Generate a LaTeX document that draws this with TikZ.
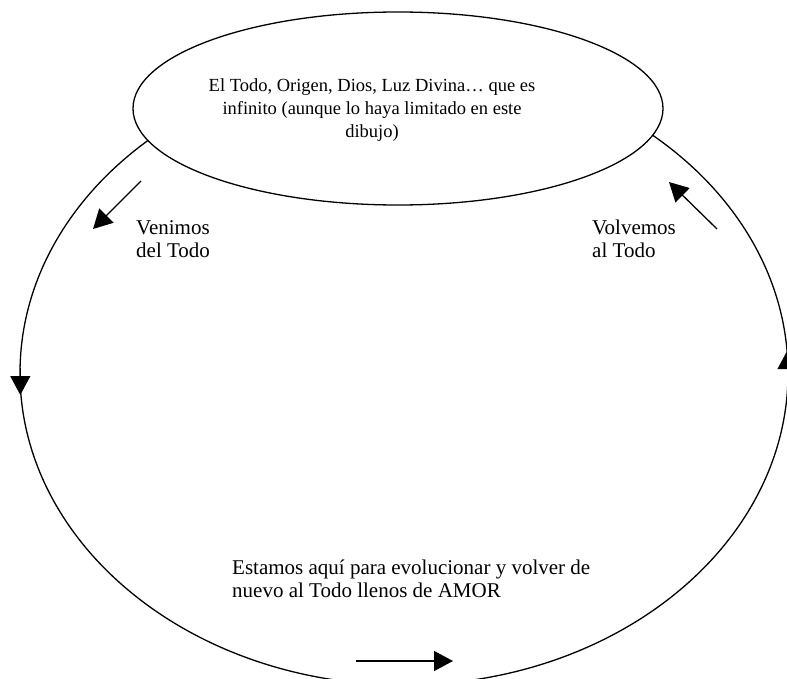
\documentclass[tikz,border=0pt]{standalone}
\usepackage{fontspec}
\setmainfont{Liberation Serif}
\usetikzlibrary{shapes.geometric,arrows.meta}
\begin{document}
\begin{tikzpicture}[x=1pt,y=-1pt,
  outline/.style={draw=black,line width=1.3pt},
  txt/.style={inner sep=0pt,font=\fontsize{21}{23}\selectfont},
  lbl/.style={txt,anchor=base west},
  ctr/.style={inner sep=0pt,anchor=base,font=\fontsize{18.5}{22}\selectfont},
  arr/.style={line width=1.3pt,-{Triangle[length=19pt,width=20pt]}}]
\useasboundingbox (0,0) rectangle (787,679);
\clip (0,0) rectangle (787,679);
% big cycle
\node[ellipse,outline,minimum width=768pt,minimum height=624pt,inner sep=0pt] (cycle) at (404,373) {};
% the All
\node[ellipse,outline,fill=white,minimum width=530pt,minimum height=193pt,inner sep=0pt] (todo) at (398,108.5) {};
\node[ctr] (t1) at (372,92) {El Todo, Origen, Dios, Luz Divina… que es};
\node[ctr] (t2) at (372,115) {infinito (aunque lo haya limitado en este};
\node[ctr] (t3) at (372,138) {dibujo)};
% labels
\node[lbl] (v1) at (136,235) {Venimos};
\node[lbl] (v2) at (136,258) {del Todo};
\node[lbl] (w1) at (592,235) {Volvemos};
\node[lbl] (w2) at (592,258) {al Todo};
\node[lbl] (e1) at (232,574) {Estamos aquí para evolucionar y volver de};
\node[lbl] (e2) at (232,597) {nuevo al Todo llenos de AMOR};
% arrows
\coordinate (d1) at (141,181); \coordinate (d2) at (93,229);
\draw[arr] (d1) -- (d2);
\coordinate (u1) at (717,229); \coordinate (u2) at (669,182);
\draw[arr] (u1) -- (u2);
\coordinate (b1) at (356,661); \coordinate (b2) at (453,661);
\draw[arr] (b1) -- (b2);
\coordinate (l1) at (20.3,368); \coordinate (l2) at (20.3,395);
\draw[arr] (l1) -- (l2);
\coordinate (r1) at (787.6,378); \coordinate (r2) at (787.6,350);
\draw[arr] (r1) -- (r2);
\end{tikzpicture}
\end{document}
